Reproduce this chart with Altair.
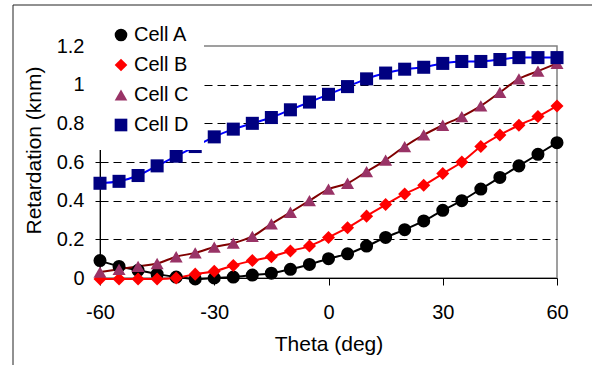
import altair as alt
import pandas as pd

theta = [-60, -55, -50, -45, -40, -35, -30, -25, -20, -15, -10, -5, 0,
         5, 10, 15, 20, 25, 30, 35, 40, 45, 50, 55, 60]
cell_a = [0.09, 0.06, 0.04, 0.02, 0.005, -0.005, 0.0, 0.005, 0.015, 0.025, 0.045, 0.07, 0.10,
          0.125, 0.165, 0.21, 0.25, 0.295, 0.35, 0.40, 0.46, 0.52, 0.58, 0.64, 0.70]
cell_b = [-0.005, -0.005, -0.005, -0.005, 0.0, 0.02, 0.035, 0.065, 0.09, 0.11, 0.14, 0.165, 0.21,
          0.26, 0.32, 0.38, 0.435, 0.48, 0.54, 0.60, 0.68, 0.74, 0.79, 0.835, 0.89]
cell_c = [0.03, 0.045, 0.06, 0.075, 0.11, 0.13, 0.16, 0.18, 0.215, 0.28, 0.34, 0.40, 0.46,
          0.49, 0.55, 0.61, 0.68, 0.74, 0.79, 0.835, 0.89, 0.96, 1.03, 1.07, 1.11]
cell_d = [0.49, 0.50, 0.53, 0.58, 0.63, 0.68, 0.73, 0.77, 0.80, 0.83, 0.87, 0.91, 0.95,
          0.99, 1.03, 1.06, 1.08, 1.09, 1.11, 1.12, 1.12, 1.13, 1.14, 1.14, 1.14]

cells = ["Cell A", "Cell B", "Cell C", "Cell D"]
line_names = ["Fit A", "Fit B", "Fit C", "Fit D"]
marker_colors = ["#000000", "#FF0000", "#993366", "#000080"]
line_colors = ["#000000", "#FF0000", "#800000", "#0000FF"]
shapes = ["circle", "diamond", "triangle-up", "square"]
x_ticks = [-60, -30, 0, 30, 60]
y_ticks = [0, 0.2, 0.4, 0.6, 0.8, 1, 1.2]

rows = []
for name, lname, vals in zip(cells, line_names, [cell_a, cell_b, cell_c, cell_d]):
    for t, v in zip(theta, vals):
        rows.append({"theta": t, "ret": v, "cell": name, "fit": lname})
df = pd.DataFrame(rows)

x_enc = alt.X("theta:Q", scale=alt.Scale(domain=[-60, 60], nice=False),
              axis=alt.Axis(title="Theta (deg)", values=x_ticks,
                            labelExpr="'' + datum.value", grid=False,
                            labelFlush=False, labelOverlap=False,
                            tickSize=7, labelPadding=33, labelBaseline="alphabetic",
                            titleY=72, titleBaseline="alphabetic"))
y_enc = alt.Y("ret:Q", scale=alt.Scale(domain=[0, 1.2], nice=False, zero=False),
              axis=alt.Axis(title="Retardation (knm)", values=y_ticks, tickCount=7,
                            labelExpr="'' + datum.value", tickSize=5, labelPadding=11,
                            labelFlush=False, labelOverlap=False,
                            grid=True, gridColor="#000000", gridDash=[8, 5], gridWidth=1,
                            gridOpacity={"condition": {"test": "datum.value < 0.1 || datum.value > 1.1", "value": 0}, "value": 1},
                            titleX=-60, titleY=104, titleBaseline="alphabetic"))

leg = dict(title=None, orient="none", legendX=-13, legendY=-36,
           fillColor="#FFFFFF", padding=15, labelFontSize=20,
           labelColor="#000000", symbolSize=160, rowPadding=10,
           labelOffset=3, symbolOffset=9, symbolStrokeWidth=0)

base = alt.Chart(df).encode(x=x_enc, y=y_enc)

lines = base.mark_line(strokeWidth=2, interpolate="monotone").encode(
    stroke=alt.Stroke("fit:N", scale=alt.Scale(domain=line_names, range=line_colors), legend=None),
)

points = base.mark_point(filled=True, size=170, opacity=1, clip=False).encode(
    color=alt.Color("cell:N", scale=alt.Scale(domain=cells, range=marker_colors),
                    legend=alt.Legend(**leg)),
    shape=alt.Shape("cell:N", scale=alt.Scale(domain=cells, range=shapes),
                    legend=alt.Legend(**leg)),
)

frame_v = alt.Chart(alt.Data(values=[{}])).mark_rule(color="#222222", strokeWidth=1).encode(
    x=alt.value(-87), y=alt.value(-41), y2=alt.value(330))
frame_h = alt.Chart(alt.Data(values=[{}])).mark_rule(color="#222222", strokeWidth=1).encode(
    x=alt.value(-87), x2=alt.value(500), y=alt.value(-41))

chart = alt.layer(frame_v, frame_h, lines, points).properties(
    width=457, height=232,
    autosize=alt.AutoSizeParams(type="none"),
    padding={"left": 100, "top": 46, "right": 35, "bottom": 87},
    background="#FFFFFF",
).configure(
    font="Liberation Sans",
).configure_view(
    stroke="#808080", strokeWidth=1.5,
).configure_axis(
    labelFontSize=20, titleFontSize=21, labelColor="#000000", titleColor="#000000",
    titleFontWeight="normal", domainColor="#000000", tickColor="#000000",
    domainWidth=1, tickWidth=1, zindex=1,
).configure_legend(
    labelFont="Liberation Sans",
)

chart.save("out.html", embed_options={"renderer": "svg", "actions": False})
